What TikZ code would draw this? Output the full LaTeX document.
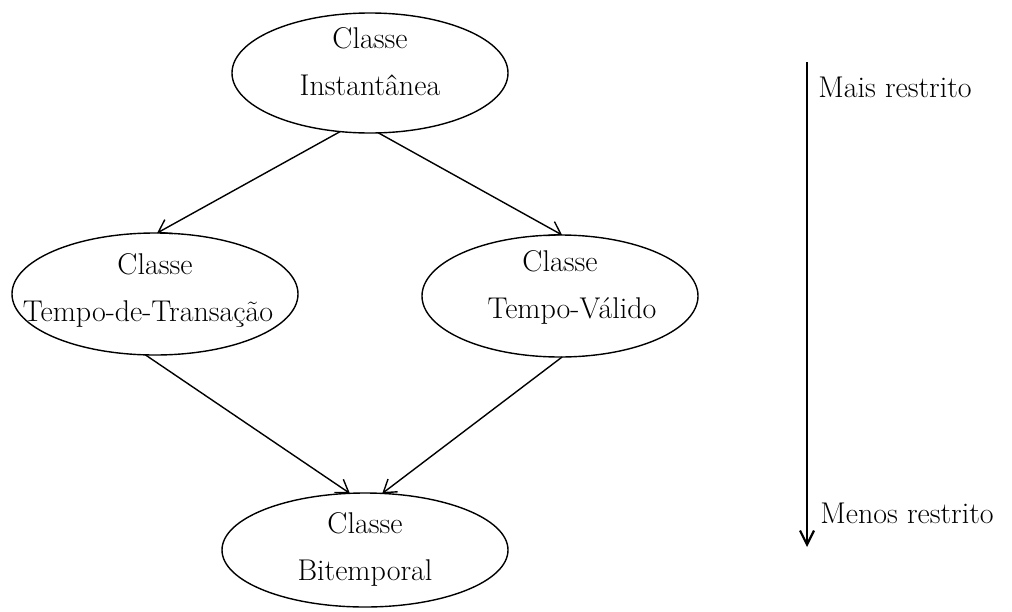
\documentclass[tikz,border=0pt]{standalone}
\usetikzlibrary{shapes.geometric,arrows.meta}
\newcommand{\zb}[1]{\makebox[0pt]{#1}}
\begin{document}
\begin{tikzpicture}[x=0.5pt,y=-0.5pt,
  classe/.style={ellipse,draw,line width=0.7pt,inner xsep=0pt,inner ysep=-8pt,outer sep=0pt,
    align=center,font=\fontsize{15}{23.5}\selectfont,text height=36pt},
  conn/.style={line width=0.7pt,-{Straight Barb[length=6pt,width=8pt,line width=0.7pt]}},
  lbl/.style={anchor=base west,inner sep=0pt,font=\fontsize{15}{18}\selectfont}]
\useasboundingbox (0,0) rectangle (1012,611);
\node[classe,minimum width=138pt,minimum height=60pt,text depth=14pt] (inst) at (370,73) {\zb{Classe}\\\zb{Instantânea}};
\node[classe,minimum width=143pt,minimum height=61pt,text depth=9pt] (tt) at (155,294) {\zb{Classe}\\\zb{\kern-7pt Tempo-de-Transação}};
\node[classe,minimum width=138pt,minimum height=61pt,text depth=14pt] (tv) at (560,296) {\zb{Classe}\\\zb{\kern12pt Tempo-Válido}};
\node[classe,minimum width=143pt,minimum height=57pt,text depth=6pt] (bi) at (365,550) {\zb{Classe}\\\zb{Bitemporal}};
\draw[conn] (inst.243) -- (tt.88);
\draw[conn] (inst.278) -- (tv.88);
\draw[conn] (tt.261) -- (bi.105);
\draw[conn] (tv.272) -- (bi.73);
\coordinate (atop) at (807,62);
\coordinate (abot) at (807,547);
\draw[line width=1.1pt,-{Straight Barb[length=7pt,width=7pt,line width=1.1pt]}] (atop) -- (abot);
\node[lbl] (mais) at (818,97) {Mais restrito};
\node[lbl] (menos) at (820,523) {Menos restrito};
\end{tikzpicture}
\end{document}
